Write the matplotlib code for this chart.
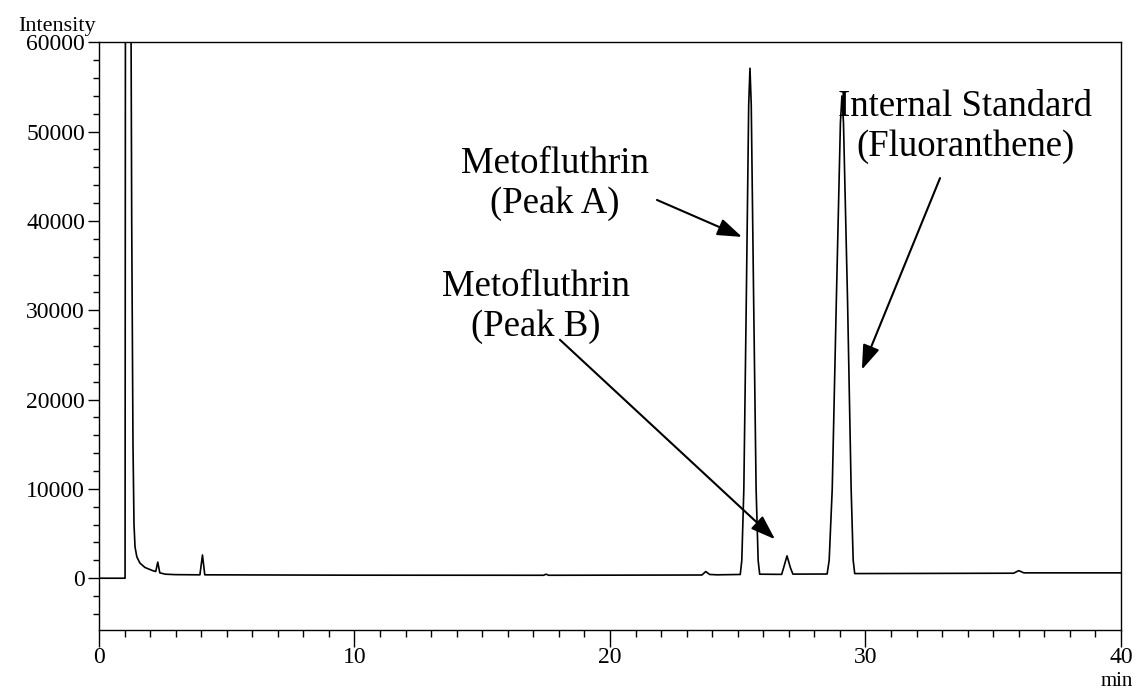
import numpy as np
import matplotlib
matplotlib.use("Agg")
import matplotlib.pyplot as plt
from matplotlib.ticker import MultipleLocator

# chromatogram trace (time in min, intensity)
time_min = [0.0, 1.00, 1.02, 1.04, 1.22, 1.28, 1.33, 1.37, 1.41, 1.48, 1.60,
            1.80, 2.10, 2.22, 2.30, 2.38, 2.60, 3.00, 3.95, 4.05, 4.14,
            10.0, 17.4, 17.5, 17.6, 23.6, 23.75, 23.9, 24.2,
            25.10, 25.16, 25.24, 25.34, 25.43, 25.48, 25.53, 25.62, 25.72, 25.80, 25.86,
            26.72, 26.80, 26.93, 27.06, 27.16,
            28.50, 28.58, 28.70, 28.86, 29.02, 29.08, 29.14, 29.30, 29.44, 29.52, 29.58,
            35.8, 36.0, 36.2, 40.0]
intensity = [0, 0, 0, 90000, 90000, 40000, 15000, 6000, 3500, 2400, 1700,
             1200, 850, 750, 1800, 600, 450, 400, 380, 2600, 380,
             340, 330, 450, 330, 360, 750, 420, 380,
             420, 2000, 10000, 32000, 53000, 57100, 53000, 32000, 10000, 2000, 450,
             430, 1200, 2500, 1200, 460,
             470, 2000, 10000, 31000, 51000, 54000, 51000, 31000, 10000, 2000, 520,
             560, 850, 600, 600]

# annotations: label, text centre (min, intensity), arrow tail, arrow head
labels = ["Metofluthrin\n(Peak A)", "Metofluthrin\n(Peak B)",
          "Internal Standard\n(Fluoranthene)"]
label_pos = [(17.85, 44200), (17.1, 30400), (33.9, 50500)]
arrow_from = [(21.84, 42350), (18.04, 26700), (32.92, 44800)]
arrow_to = [(25.17, 38210), (26.46, 4360), (29.86, 23350)]

fig = plt.figure(figsize=(11.38, 6.89), dpi=100)
ax = fig.add_axes([0.087, 0.0856, 0.898, 0.853])

ax.plot(time_min, intensity, color="black", lw=1.2)

ax.set_xlim(0, 40)
ax.set_ylim(-5800, 60000)
ax.xaxis.set_major_locator(MultipleLocator(10))
ax.xaxis.set_minor_locator(MultipleLocator(1))
ax.yaxis.set_major_locator(MultipleLocator(10000))
ax.yaxis.set_minor_locator(MultipleLocator(2000))
ax.tick_params(axis="x", which="major", direction="out", length=12, width=1, pad=0)
ax.tick_params(axis="x", which="minor", direction="out", length=5, width=1)
ax.tick_params(axis="y", which="major", direction="out", length=8, width=1, pad=2)
ax.tick_params(axis="y", which="minor", direction="out", length=4, width=1)
for lab in ax.get_xticklabels() + ax.get_yticklabels():
    lab.set_fontfamily("Liberation Serif")
    lab.set_fontsize(17)
for sp in ax.spines.values():
    sp.set_linewidth(1.0)

fig.text(0.050, 0.962, "Intensity", family="Liberation Serif", fontsize=16,
         ha="center", va="center")
fig.text(0.981, 0.011, "min", family="Liberation Serif", fontsize=15,
         ha="center", va="center")

for text, pos, a, b in zip(labels, label_pos, arrow_from, arrow_to):
    ax.text(pos[0], pos[1], text, family="Liberation Serif", fontsize=26.5,
            ha="center", va="center", linespacing=1.2)
    ax.annotate("", xy=b, xytext=a,
                arrowprops=dict(arrowstyle="-|>,head_length=1.0,head_width=0.35",
                                mutation_scale=15, color="black", lw=1.5,
                                shrinkA=0, shrinkB=0))

fig.savefig("out.png", dpi=100)
